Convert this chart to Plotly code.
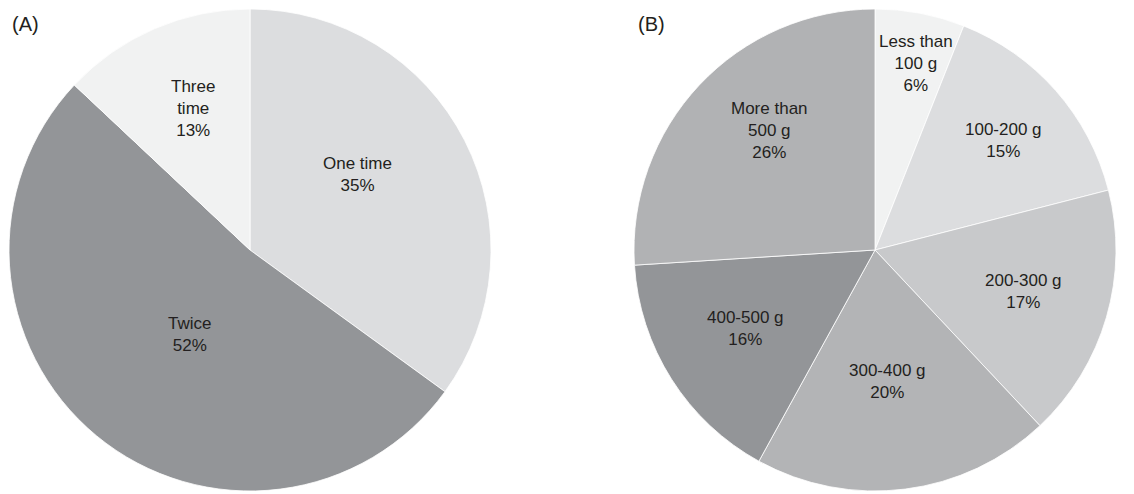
import math
import plotly.graph_objects as go

# Pie A data
labels_a = ["One time", "Twice", "Three time"]
text_a = ["One time", "Twice", "Three<br>time"]
values_a = [35, 52, 13]

# Pie B data
labels_b = ["Less than 100 g", "100-200 g", "200-300 g", "300-400 g", "400-500 g", "More than 500 g"]
text_b = ["Less than<br>100 g", "100-200 g", "200-300 g", "300-400 g", "400-500 g", "More than<br>500 g"]
values_b = [6, 15, 17, 20, 16, 26]

# Styles
colors_a = ["#dcdddf", "#939598", "#f1f2f2"]
colors_b = ["#f1f2f2", "#dcdddf", "#c8c9cb", "#b3b4b6", "#939598", "#b1b2b4"]
# label placement: (radius fraction, angle offset in degrees from slice middle)
place_a = [(0.545, -8.0), (0.43, -4.0), (0.635, 1.5)]
place_b = [(0.79, 1.5), (0.70, 1.0), (0.64, -0.7), (0.55, 1.6), (0.63, 1.2), (0.66, 5.4)]

W, H = 1134, 494
OFF = 8  # page body margin
R = 241
cen_a = (250 - OFF, 250 - OFF)
cen_b = (875 - OFF, 250 - OFF)
TXT = "#231f20"
FAM = "Liberation Sans, Arial, sans-serif"


def domain(c):
    return dict(x=[(c[0] - R) / W, (c[0] + R) / W],
                y=[1 - (c[1] + R) / H, 1 - (c[1] - R) / H])


fig = go.Figure()
for labels, values, colors, c in [(labels_a, values_a, colors_a, cen_a),
                                  (labels_b, values_b, colors_b, cen_b)]:
    fig.add_trace(go.Pie(
        labels=labels, values=values, textinfo="none",
        sort=False, direction="clockwise", rotation=0,
        marker=dict(colors=colors, line=dict(color="white", width=0.8)),
        showlegend=False, hoverinfo="label+percent",
        domain=domain(c),
    ))


def add_labels(texts, values, places, c):
    total = sum(values)
    cum = 0
    for t, v, (rf, da) in zip(texts, values, places):
        mid = (cum + v / 2) / total * 360 + da
        cum += v
        a = math.radians(mid)
        px = c[0] + rf * R * math.sin(a)
        py = c[1] - rf * R * math.cos(a)
        fig.add_annotation(text=f"{t}<br>{round(v / total * 100)}%",
                           x=px / W, y=1 - py / H, xref="paper", yref="paper",
                           xanchor="center", yanchor="middle", showarrow=False,
                           font=dict(family=FAM, size=17, color=TXT))


add_labels(text_a, values_a, place_a, cen_a)
add_labels(text_b, values_b, place_b, cen_b)

for txt, x in [("(A)", 10 - OFF), ("(B)", 636 - OFF)]:
    fig.add_annotation(text=txt, x=x / W, y=1 - (24 - OFF) / H, xref="paper", yref="paper",
                       xanchor="left", yanchor="middle", showarrow=False,
                       font=dict(family=FAM, size=20, color=TXT))

fig.update_layout(width=W, height=H, margin=dict(l=0, r=0, t=0, b=0),
                  paper_bgcolor="white", plot_bgcolor="white")
fig.write_html("out.html")
